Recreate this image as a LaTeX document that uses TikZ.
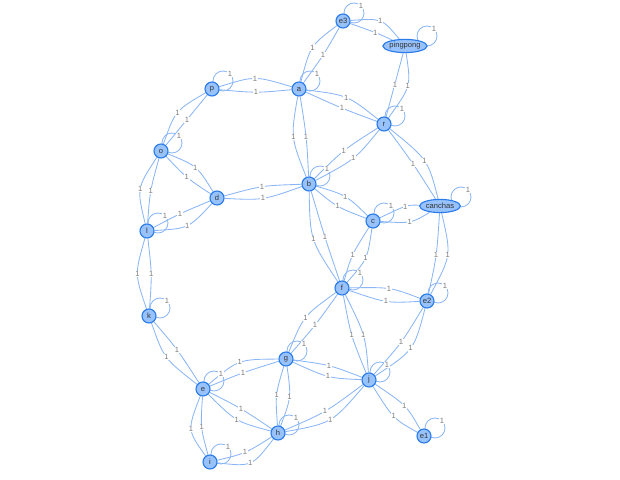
\documentclass[tikz,border=0pt]{standalone}
\usepackage{fontspec}
\setmainfont{Liberation Sans}
\usepackage{tikz}
\usetikzlibrary{calc,shapes.geometric,backgrounds}
\definecolor{nodefill}{HTML}{97C2FC}
\definecolor{nodeline}{HTML}{2B7CE9}
\definecolor{edgeblue}{HTML}{8AB6F6}
\definecolor{labelgray}{HTML}{7A7A7A}
\definecolor{textgray}{HTML}{343434}
\begin{document}
\begin{tikzpicture}[x=0.025cm,y=-0.025cm,
  vnode/.style={circle,draw=nodeline,fill=nodefill,line width=0.8pt,minimum size=0.35cm,inner sep=0pt,
    font=\fontsize{5.4}{6}\selectfont,text=textgray},
  vell/.style={ellipse,draw=nodeline,fill=nodefill,line width=0.8pt,minimum width=1.1cm,minimum height=0.33cm,inner sep=0pt,
    font=\fontsize{5.4}{6}\selectfont,text=textgray},
  edge/.style={draw=edgeblue,line width=0.6pt},
  lbl/.style={font=\fontsize{5.4}{6}\selectfont,text=labelgray,fill=white,inner sep=0.4pt}]
\useasboundingbox (0,0) rectangle (620,480);
% nodes
\node[vnode] (e3) at (343,21) {e3};
\node[vell] (pingpong) at (405,46) {pingpong};
\node[vnode] (a) at (299,89) {a};
\node[vnode] (p) at (212,89) {p};
\node[vnode] (r) at (384,124) {r};
\node[vnode] (o) at (161,151) {o};
\node[vnode] (b) at (309,184) {b};
\node[vnode] (d) at (217,198) {d};
\node[vell,minimum width=1.02cm] (canchas) at (440,206) {canchas};
\node[vnode] (c) at (373,221) {c};
\node[vnode] (l) at (147,231) {l};
\node[vnode] (f) at (342,288) {f};
\node[vnode] (e2) at (427,301) {e2};
\node[vnode] (k) at (149,316) {k};
\node[vnode] (g) at (286,359) {g};
\node[vnode] (j) at (369,380) {j};
\node[vnode] (e) at (203,389) {e};
\node[vnode] (h) at (278,433) {h};
\node[vnode] (e1) at (424,436) {e1};
\node[vnode] (i) at (210,462) {i};
\begin{pgfonlayer}{background}
% links, two per pair
\draw[edge] (e3) .. controls ($1.3333*(313,48)-0.1667*(e3)-0.1667*(a)$) .. node[lbl] {1} (a);
\draw[edge] (e3) .. controls ($1.3333*(323,55)-0.1667*(e3)-0.1667*(a)$) .. node[lbl] {1} (a);
\draw[edge] (e3) .. controls ($1.3333*(380,22)-0.1667*(e3)-0.1667*(pingpong)$) .. node[lbl] {1} (pingpong);
\draw[edge] (e3) .. controls ($1.3333*(376,33)-0.1667*(e3)-0.1667*(pingpong)$) .. node[lbl] {1} (pingpong);
\draw[edge] (pingpong) .. controls ($1.3333*(395,85)-0.1667*(pingpong)-0.1667*(r)$) .. node[lbl] {1} (r);
\draw[edge] (pingpong) .. controls ($1.3333*(407,86)-0.1667*(pingpong)-0.1667*(r)$) .. node[lbl] {1} (r);
\draw[edge] (p) .. controls ($1.3333*(255,79)-0.1667*(p)-0.1667*(a)$) .. node[lbl] {1} (a);
\draw[edge] (p) .. controls ($1.3333*(256,92)-0.1667*(p)-0.1667*(a)$) .. node[lbl] {1} (a);
\draw[edge] (a) .. controls ($1.3333*(346,98)-0.1667*(a)-0.1667*(r)$) .. node[lbl] {1} (r);
\draw[edge] (a) .. controls ($1.3333*(342,108)-0.1667*(a)-0.1667*(r)$) .. node[lbl] {1} (r);
\draw[edge] (a) .. controls ($1.3333*(294,137)-0.1667*(a)-0.1667*(b)$) .. node[lbl] {1} (b);
\draw[edge] (a) .. controls ($1.3333*(306,137)-0.1667*(a)-0.1667*(b)$) .. node[lbl] {1} (b);
\draw[edge] (p) .. controls ($1.3333*(178,113)-0.1667*(p)-0.1667*(o)$) .. node[lbl] {1} (o);
\draw[edge] (p) .. controls ($1.3333*(187,120)-0.1667*(p)-0.1667*(o)$) .. node[lbl] {1} (o);
\draw[edge] (o) .. controls ($1.3333*(195,168)-0.1667*(o)-0.1667*(d)$) .. node[lbl] {1} (d);
\draw[edge] (o) .. controls ($1.3333*(187,177)-0.1667*(o)-0.1667*(d)$) .. node[lbl] {1} (d);
\draw[edge] (o) .. controls ($1.3333*(141,189)-0.1667*(o)-0.1667*(l)$) .. node[lbl] {1} (l);
\draw[edge] (o) .. controls ($1.3333*(151,191)-0.1667*(o)-0.1667*(l)$) .. node[lbl] {1} (l);
\draw[edge] (l) .. controls ($1.3333*(180,214)-0.1667*(l)-0.1667*(d)$) .. node[lbl] {1} (d);
\draw[edge] (l) .. controls ($1.3333*(187,225)-0.1667*(l)-0.1667*(d)$) .. node[lbl] {1} (d);
\draw[edge] (d) .. controls ($1.3333*(262,187)-0.1667*(d)-0.1667*(b)$) .. node[lbl] {1} (b);
\draw[edge] (d) .. controls ($1.3333*(263,198)-0.1667*(d)-0.1667*(b)$) .. node[lbl] {1} (b);
\draw[edge] (b) .. controls ($1.3333*(344,151)-0.1667*(b)-0.1667*(r)$) .. node[lbl] {1} (r);
\draw[edge] (b) .. controls ($1.3333*(353,158)-0.1667*(b)-0.1667*(r)$) .. node[lbl] {1} (r);
\draw[edge] (b) .. controls ($1.3333*(345,197)-0.1667*(b)-0.1667*(c)$) .. node[lbl] {1} (c);
\draw[edge] (b) .. controls ($1.3333*(338,206)-0.1667*(b)-0.1667*(c)$) .. node[lbl] {1} (c);
\draw[edge] (b) .. controls ($1.3333*(314,239)-0.1667*(b)-0.1667*(f)$) .. node[lbl] {1} (f);
\draw[edge] (b) .. controls ($1.3333*(325,237)-0.1667*(b)-0.1667*(f)$) .. node[lbl] {1} (f);
\draw[edge] (r) .. controls ($1.3333*(413,164)-0.1667*(r)-0.1667*(canchas)$) .. node[lbl] {1} (canchas);
\draw[edge] (r) .. controls ($1.3333*(424,161)-0.1667*(r)-0.1667*(canchas)$) .. node[lbl] {1} (canchas);
\draw[edge] (c) .. controls ($1.3333*(407,207)-0.1667*(c)-0.1667*(canchas)$) .. node[lbl] {1} (canchas);
\draw[edge] (c) .. controls ($1.3333*(410,221)-0.1667*(c)-0.1667*(canchas)$) .. node[lbl] {1} (canchas);
\draw[edge] (c) .. controls ($1.3333*(353,255)-0.1667*(c)-0.1667*(f)$) .. node[lbl] {1} (f);
\draw[edge] (c) .. controls ($1.3333*(365,258)-0.1667*(c)-0.1667*(f)$) .. node[lbl] {1} (f);
\draw[edge] (canchas) .. controls ($1.3333*(436,255)-0.1667*(canchas)-0.1667*(e2)$) .. node[lbl] {1} (e2);
\draw[edge] (canchas) .. controls ($1.3333*(447,255)-0.1667*(canchas)-0.1667*(e2)$) .. node[lbl] {1} (e2);
\draw[edge] (f) .. controls ($1.3333*(389,289)-0.1667*(f)-0.1667*(e2)$) .. node[lbl] {1} (e2);
\draw[edge] (f) .. controls ($1.3333*(386,301)-0.1667*(f)-0.1667*(e2)$) .. node[lbl] {1} (e2);
\draw[edge] (f) .. controls ($1.3333*(306,318)-0.1667*(f)-0.1667*(g)$) .. node[lbl] {1} (g);
\draw[edge] (f) .. controls ($1.3333*(315,325)-0.1667*(f)-0.1667*(g)$) .. node[lbl] {1} (g);
\draw[edge] (f) .. controls ($1.3333*(352,335)-0.1667*(f)-0.1667*(j)$) .. node[lbl] {1} (j);
\draw[edge] (f) .. controls ($1.3333*(363,335)-0.1667*(f)-0.1667*(j)$) .. node[lbl] {1} (j);
\draw[edge] (e2) .. controls ($1.3333*(401,342)-0.1667*(e2)-0.1667*(j)$) .. node[lbl] {1} (j);
\draw[edge] (e2) .. controls ($1.3333*(410,348)-0.1667*(e2)-0.1667*(j)$) .. node[lbl] {1} (j);
\draw[edge] (l) .. controls ($1.3333*(138,274)-0.1667*(l)-0.1667*(k)$) .. node[lbl] {1} (k);
\draw[edge] (l) .. controls ($1.3333*(151,274)-0.1667*(l)-0.1667*(k)$) .. node[lbl] {1} (k);
\draw[edge] (k) .. controls ($1.3333*(167,357)-0.1667*(k)-0.1667*(e)$) .. node[lbl] {1} (e);
\draw[edge] (k) .. controls ($1.3333*(177,350)-0.1667*(k)-0.1667*(e)$) .. node[lbl] {1} (e);
\draw[edge] (e) .. controls ($1.3333*(240,363)-0.1667*(e)-0.1667*(g)$) .. node[lbl] {1} (g);
\draw[edge] (e) .. controls ($1.3333*(243,373)-0.1667*(e)-0.1667*(g)$) .. node[lbl] {1} (g);
\draw[edge] (e) .. controls ($1.3333*(241,409)-0.1667*(e)-0.1667*(h)$) .. node[lbl] {1} (h);
\draw[edge] (e) .. controls ($1.3333*(237,419)-0.1667*(e)-0.1667*(h)$) .. node[lbl] {1} (h);
\draw[edge] (e) .. controls ($1.3333*(192,429)-0.1667*(e)-0.1667*(i)$) .. node[lbl] {1} (i);
\draw[edge] (e) .. controls ($1.3333*(202,427)-0.1667*(e)-0.1667*(i)$) .. node[lbl] {1} (i);
\draw[edge] (g) .. controls ($1.3333*(277,395)-0.1667*(g)-0.1667*(h)$) .. node[lbl] {1} (h);
\draw[edge] (g) .. controls ($1.3333*(289,397)-0.1667*(g)-0.1667*(h)$) .. node[lbl] {1} (h);
\draw[edge] (g) .. controls ($1.3333*(329,366)-0.1667*(g)-0.1667*(j)$) .. node[lbl] {1} (j);
\draw[edge] (g) .. controls ($1.3333*(328,376)-0.1667*(g)-0.1667*(j)$) .. node[lbl] {1} (j);
\draw[edge] (h) .. controls ($1.3333*(325,411)-0.1667*(h)-0.1667*(j)$) .. node[lbl] {1} (j);
\draw[edge] (h) .. controls ($1.3333*(330,419)-0.1667*(h)-0.1667*(j)$) .. node[lbl] {1} (j);
\draw[edge] (h) .. controls ($1.3333*(245,452)-0.1667*(h)-0.1667*(i)$) .. node[lbl] {1} (i);
\draw[edge] (h) .. controls ($1.3333*(250,462)-0.1667*(h)-0.1667*(i)$) .. node[lbl] {1} (i);
\draw[edge] (j) .. controls ($1.3333*(404,406)-0.1667*(j)-0.1667*(e1)$) .. node[lbl] {1} (e1);
\draw[edge] (j) .. controls ($1.3333*(394,416)-0.1667*(j)-0.1667*(e1)$) .. node[lbl] {1} (e1);
% self loops
\draw[edge] (e3.center) ++(11,-8) circle (10) ++(7,-7) node[lbl] {1};
\draw[edge] (pingpong.center) ++(22,-10) circle (10) ++(7,-7) node[lbl] {1};
\draw[edge] (a.center) ++(11,-8) circle (10) ++(7,-7) node[lbl] {1};
\draw[edge] (p.center) ++(11,-8) circle (10) ++(7,-7) node[lbl] {1};
\draw[edge] (r.center) ++(11,-8) circle (10) ++(7,-7) node[lbl] {1};
\draw[edge] (o.center) ++(11,-8) circle (10) ++(7,-7) node[lbl] {1};
\draw[edge] (b.center) ++(11,-8) circle (10) ++(7,-7) node[lbl] {1};
\draw[edge] (canchas.center) ++(21,-9) circle (10) ++(7,-7) node[lbl] {1};
\draw[edge] (c.center) ++(11,-8) circle (10) ++(7,-7) node[lbl] {1};
\draw[edge] (l.center) ++(11,-8) circle (10) ++(7,-7) node[lbl] {1};
\draw[edge] (f.center) ++(11,-8) circle (10) ++(7,-7) node[lbl] {1};
\draw[edge] (e2.center) ++(11,-8) circle (10) ++(7,-7) node[lbl] {1};
\draw[edge] (k.center) ++(11,-8) circle (10) ++(7,-7) node[lbl] {1};
\draw[edge] (g.center) ++(11,-8) circle (10) ++(7,-7) node[lbl] {1};
\draw[edge] (j.center) ++(11,-8) circle (10) ++(7,-7) node[lbl] {1};
\draw[edge] (e.center) ++(11,-8) circle (10) ++(7,-7) node[lbl] {1};
\draw[edge] (h.center) ++(11,-8) circle (10) ++(7,-7) node[lbl] {1};
\draw[edge] (e1.center) ++(11,-8) circle (10) ++(7,-7) node[lbl] {1};
\draw[edge] (i.center) ++(11,-8) circle (10) ++(7,-7) node[lbl] {1};
\end{pgfonlayer}
\end{tikzpicture}
\end{document}
